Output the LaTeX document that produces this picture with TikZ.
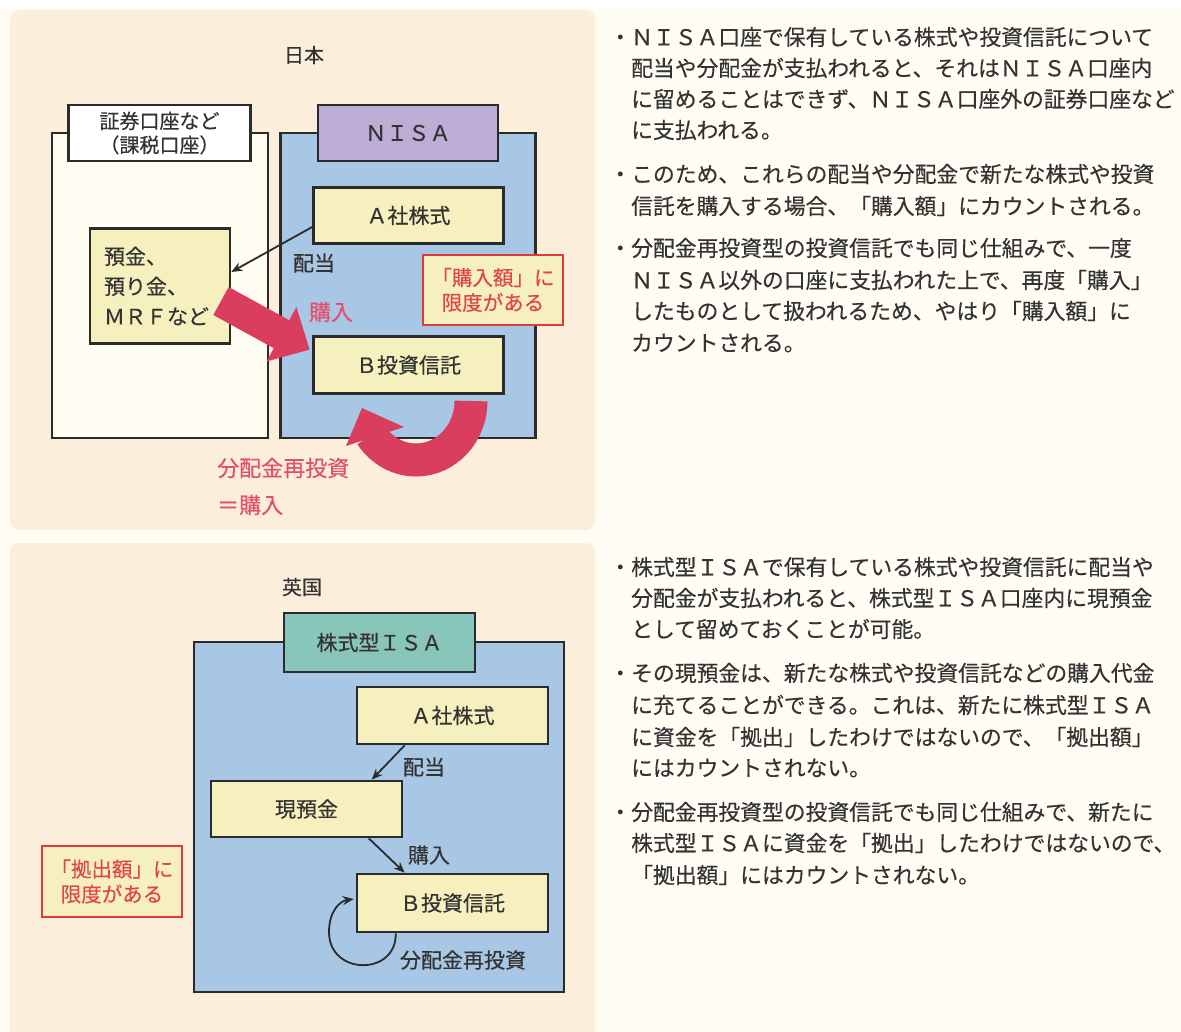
\documentclass[tikz,border=0pt]{standalone}
\usepackage{fontspec}
\setmainfont{Noto Sans CJK JP}[FakeBold=0.35]
\usetikzlibrary{arrows.meta,calc}
\definecolor{pnl}{HTML}{FBEEDA}
\definecolor{crm}{HTML}{FFFDF3}
\definecolor{seccrm}{HTML}{FFFDF2}
\definecolor{blu}{HTML}{A8C7E4}
\definecolor{yel}{HTML}{F5F0BE}
\definecolor{lav}{HTML}{BEADD5}
\definecolor{teal}{HTML}{87C6B8}
\definecolor{redA}{HTML}{DA3E5E}
\definecolor{pinkT}{HTML}{E2506C}
\definecolor{redB}{HTML}{E03A3A}
\definecolor{redT}{HTML}{E04646}
\definecolor{txt}{HTML}{333333}
\definecolor{brd}{HTML}{2B2B2B}
\newcommand\fsBody{\fontsize{21.8pt}{26pt}\selectfont}
\newcommand\fsBox{\fontsize{21pt}{26pt}\selectfont}
\newcommand\bu{\llap{・}}
\begin{document}
\begin{tikzpicture}[x=1pt,y=-1pt,
  boxy/.style={draw=brd,line width=2.6pt,inner sep=0pt,text=txt,font=\fsBox},
  lbl/.style={inner sep=0pt,text=txt,font=\fsBox},
  plbl/.style={inner sep=0pt,text=pinkT,font=\fontsize{22pt}{37pt}\selectfont},
  redbox/.style={draw=redB,line width=2.2pt,fill=yel,inner sep=0pt,text=redT,align=center,
     minimum width=140pt,minimum height=70pt,font=\fontsize{20.5pt}{25pt}\selectfont},
  thinarr/.style={draw=brd,line width=1.8pt,-{Stealth[length=11pt,width=9pt]}},
  rtxt/.style={inner sep=0pt,anchor=west,text=txt,font=\fsBody}]
\useasboundingbox (0,0) rectangle (1181,1032);
\fill[white] (0,0) rectangle (1181,1032);
\fill[crm] (0,8) rectangle (1181,1032);
% panels
\fill[pnl,rounded corners=9pt] (10,10) rectangle (595,530);
\fill[pnl,rounded corners=9pt] (10,543) rectangle (595,1060);

% ===== Top: Japan =====
\node[lbl,font=\fontsize{20pt}{24pt}\selectfont] (jp) at (304,55) {日本};
\node[boxy,fill=seccrm,minimum width=216pt,minimum height=305pt] (secO) at (160,285.5) {};
\node[boxy,fill=white,minimum width=182pt,minimum height=56pt,align=center,
  font=\fontsize{20pt}{24pt}\selectfont] (secL) at (159.5,133) {証券口座など\\（課税口座）};
\node[boxy,fill=blu,minimum width=255pt,minimum height=305pt] (nisaO) at (408,285.5) {};
\node[boxy,fill=lav,minimum width=180pt,minimum height=56pt,font=\fontsize{21.5pt}{26pt}\selectfont] (nisaL) at (408,133) {ＮＩＳＡ};
\node[boxy,fill=yel,minimum width=190pt,minimum height=56pt] (aTop) at (408.5,215.5) {Ａ社株式};
\node[boxy,fill=yel,minimum width=190pt,minimum height=57pt] (bTop) at (408.5,365) {Ｂ投資信託};
\node[boxy,fill=yel,minimum width=140pt,minimum height=115pt,text width=112pt,inner xsep=14pt,
  align=left,font=\fontsize{21pt}{30pt}\selectfont] (yokin) at (160,286) {預金、\\預り金、\\ＭＲＦなど};
\node[redbox] (capTop) at (493,290) {「購入額」に\\限度がある};
\node[lbl] (haitoTop) at (314,263) {配当};
\node[plbl] (kounyuTop) at (331,312) {購入};
\node[plbl,anchor=west,align=left] (saitoushiTop) at (217,486.5) {分配金再投資\\＝購入};
\draw[thinarr] ([yshift=-11.5pt]aTop.west) -- ([yshift=14pt]yokin.east);
% big straight red arrow (yokin -> bTop)
\fill[redA] (228.7,287.0) -- (289.2,320.2) -- (296.4,307.0) -- (309.6,349.6)
  -- (266.6,361.4) -- (273.8,348.2) -- (213.3,315.0) -- cycle;
% big curved red arrow (reinvestment)
\draw[redA,line width=33pt] (471,401) arc[start angle=0,end angle=145,x radius=55,y radius=59];
\fill[redA] (362,408) -- (404,427) -- (346,446) -- cycle;

% ===== Bottom: UK =====
\node[lbl,font=\fontsize{20pt}{24pt}\selectfont] (uk) at (302,587) {英国};
\node[boxy,fill=blu,minimum width=370pt,minimum height=350pt] (isaO) at (379,817) {};
\node[boxy,fill=teal,minimum width=191pt,minimum height=59pt] (isaL) at (379.5,642.5) {株式型ＩＳＡ};
\node[boxy,fill=yel,minimum width=191pt,minimum height=57pt] (aBot) at (452.5,715.5) {Ａ社株式};
\node[boxy,fill=yel,minimum width=191pt,minimum height=56pt] (genyo) at (306.5,809) {現預金};
\node[boxy,fill=yel,minimum width=191pt,minimum height=58pt] (bBot) at (452.5,903) {Ｂ投資信託};
\node[redbox,minimum height=71pt] (capBot) at (112,881.5) {「拠出額」に\\限度がある};
\node[lbl] (haitoBot) at (424,767) {配当};
\node[lbl] (kounyuBot) at (429,855) {購入};
\node[lbl] (saitoushiBot) at (463,960) {分配金再投資};
\draw[thinarr] ([xshift=49pt]aBot.south west) -- ([xshift=162pt]genyo.north west);
\draw[thinarr] ([xshift=159pt]genyo.south west) -- ([xshift=49pt]bBot.north west);
\draw[thinarr] ([xshift=40pt]bBot.south west) .. controls (397,976) and (329,976) .. (329,932)
  .. controls (329,911) and (340,901) .. ([xshift=-2pt,yshift=4pt]bBot.west);

% ===== Right column text =====
\node[rtxt] (t1) at (631,37) {\bu ＮＩＳＡ口座で保有している株式や投資信託について};
\node[rtxt] (t2) at (631,68) {配当や分配金が支払われると、それはＮＩＳＡ口座内};
\node[rtxt] (t3) at (631,99) {に留めることはできず、ＮＩＳＡ口座外の証券口座など};
\node[rtxt] (t4) at (631,130) {に支払われる。};
\node[rtxt] (t5) at (631,174) {\bu このため、これらの配当や分配金で新たな株式や投資};
\node[rtxt] (t6) at (631,206) {信託を購入する場合、「購入額」にカウントされる。};
\node[rtxt] (t7) at (631,248) {\bu 分配金再投資型の投資信託でも同じ仕組みで、一度};
\node[rtxt] (t8) at (631,280) {ＮＩＳＡ以外の口座に支払われた上で、再度「購入」};
\node[rtxt] (t9) at (631,311) {したものとして扱われるため、やはり「購入額」に};
\node[rtxt] (t10) at (631,343) {カウントされる。};

\node[rtxt] (u1) at (631,567) {\bu 株式型ＩＳＡで保有している株式や投資信託に配当や};
\node[rtxt] (u2) at (631,598) {分配金が支払われると、株式型ＩＳＡ口座内に現預金};
\node[rtxt] (u3) at (631,629) {として留めておくことが可能。};
\node[rtxt] (u4) at (631,673) {\bu その現預金は、新たな株式や投資信託などの購入代金};
\node[rtxt] (u5) at (631,705) {に充てることができる。これは、新たに株式型ＩＳＡ};
\node[rtxt] (u6) at (631,737) {に資金を「拠出」したわけではないので、「拠出額」};
\node[rtxt] (u7) at (631,768) {にはカウントされない。};
\node[rtxt] (u8) at (631,812) {\bu 分配金再投資型の投資信託でも同じ仕組みで、新たに};
\node[rtxt] (u9) at (631,843) {株式型ＩＳＡに資金を「拠出」したわけではないので、};
\node[rtxt] (u10) at (631,875) {「拠出額」にはカウントされない。};
\end{tikzpicture}
\end{document}
